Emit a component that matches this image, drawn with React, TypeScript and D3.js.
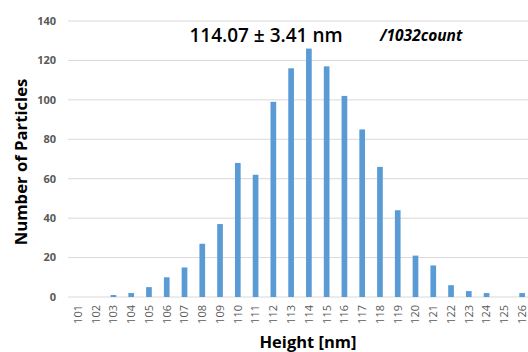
import * as d3 from 'd3';
import React from 'react';

const width = 528;
const height = 352;
const margin = { top: 21, right: -3, bottom: 55, left: 69 };

const heights = ['101', '102', '103', '104', '105', '106', '107', '108', '109', '110', '111', '112', '113',
  '114', '115', '116', '117', '118', '119', '120', '121', '122', '123', '124', '125', '126'];
const counts = [0, 0, 1, 2, 5, 10, 15, 27, 37, 68, 62, 99, 116, 126, 117, 102, 85, 66, 44, 21, 16, 6, 3, 2, 0, 2];
const yTicks = [0, 20, 40, 60, 80, 100, 120, 140];

const blue = '#5b9bd5';
const grid = '#d9d9d9';
const tickGrey = '#595959';
const font = '"Open Sans", "Liberation Sans", sans-serif';

export default function App() {
  const x = d3
    .scaleBand()
    .domain(heights)
    .range([margin.left, width - margin.right])
    .paddingInner(0.68)
    .paddingOuter(0.34);
  const y = d3.scaleLinear().domain([0, 140]).range([height - margin.bottom, margin.top]);
  const y0 = y(0);

  return (
    <svg width={width} height={height} style={{ position: 'absolute', left: 0, top: 0 }}>
      <rect width={width} height={height} fill="#fff" />
      {/* gridlines */}
      {yTicks.map(t => (
        <line key={t} x1={margin.left - 1} x2={width} y1={y(t)} y2={y(t)} stroke={grid} strokeWidth={1} />
      ))}
      {yTicks.map(t => (
        <text key={'l' + t} x={56} y={y(t)} dy="0.35em" textAnchor="end" fontFamily={font} fontSize={11}
          fontWeight="bold" fill={tickGrey}>
          {t}
        </text>
      ))}
      {/* bars */}
      {heights.map((h, i) => (
        <rect key={h} x={x(h)} y={y(counts[i])} width={x.bandwidth()} height={y0 - y(counts[i])} fill={blue} />
      ))}
      {/* x tick labels, rotated */}
      {heights.map(h => {
        const cx = (x(h) as number) + x.bandwidth() / 2;
        return (
          <text key={'x' + h} transform={`translate(${cx},${y0 + 8}) rotate(-90)`} textAnchor="end" dy="0.35em"
            fontFamily={font} fontSize={11} fill={tickGrey}>
            {h}
          </text>
        );
      })}
      <text transform={`translate(27,162) rotate(-90)`} textAnchor="middle"
        fontFamily={font} fontSize={16.7} fontWeight="bold" fill="#000">
        Number of Particles
      </text>
      <text x={308} y={348} textAnchor="middle" fontFamily={font} fontSize={16.5} fontWeight="bold" fill="#000">
        Height [nm]
      </text>
      <text x={266} y={42} textAnchor="middle" fontFamily={font} fontSize={19} fontWeight="600" fill="#000">
        114.07 ± 3.41 nm
      </text>
      <text x={380} y={41} fontFamily={font} fontSize={15.5} fontWeight="bold" fontStyle="italic" fill="#000">
        /1032count
      </text>
    </svg>
  );
}
